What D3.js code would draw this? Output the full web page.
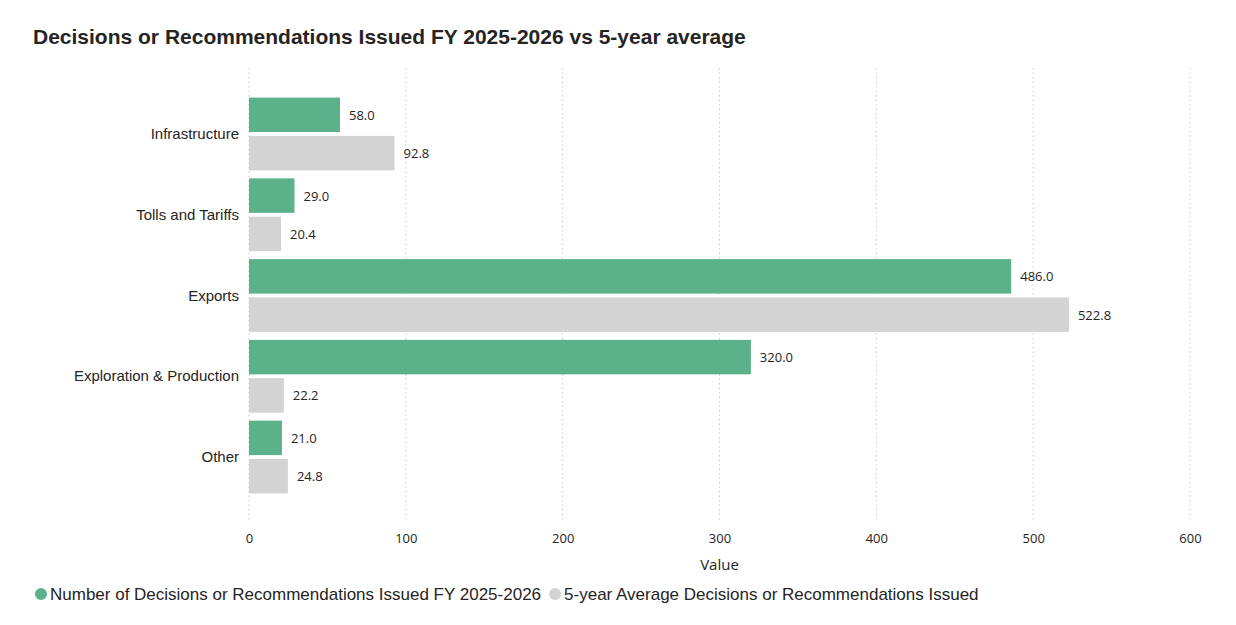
<!DOCTYPE html>
<html><head><meta charset="utf-8">
<script src="https://cdn.jsdelivr.net/npm/d3@7"></script>
<style>body{margin:0;background:#fff}</style></head>
<body><svg id="c" width="1236" height="625"></svg>
<script>
const categories = ["Infrastructure","Tolls and Tariffs","Exports","Exploration & Production","Other"];
const currentValues = [58.0, 29.0, 486.0, 320.0, 21.0];
const averageValues = [92.8, 20.4, 522.8, 22.2, 24.8];
const xTicks = [0,100,200,300,400,500,600];
const seriesNames = ["Number of Decisions or Recommendations Issued FY 2025-2026","5-year Average Decisions or Recommendations Issued"];
const colors = ["#5AB18A","#D3D3D3"];

const svg = d3.select("#c");
const x = d3.scaleLinear().domain([0,600]).range([249,1190]);
const y = d3.scaleBand().domain(categories).range([93.6,497.4]);
const sub = d3.scaleBand().domain([0,1]).range([4,y.bandwidth()-4]).paddingInner(0.1);

svg.append("text").attr("x",33).attr("y",44).attr("font-family","Liberation Sans, Arial").attr("font-weight","bold")
  .attr("font-size",21).attr("fill","#252423").text("Decisions or Recommendations Issued FY 2025-2026 vs 5-year average");

svg.append("g").selectAll("line").data(xTicks).join("line")
  .attr("x1",d=>x(d)).attr("x2",d=>x(d)).attr("y1",68).attr("y2",522)
  .attr("stroke","#c8c8c8").attr("stroke-dasharray","1.5,3");

const ax = svg.append("g").attr("transform","translate(0,528)").call(d3.axisBottom(x).tickValues(xTicks).tickSize(0).tickPadding(6));
ax.select(".domain").remove();
ax.selectAll("text").attr("font-family","Open Sans, sans-serif").attr("font-size",13).attr("fill","#252423");
svg.append("text").attr("x",x(300)).attr("y",570).attr("text-anchor","middle").attr("font-family","Open Sans, sans-serif")
  .attr("font-size",15).attr("fill","#252423").text("Value");

svg.append("g").selectAll("text").data(categories).join("text")
  .attr("x",239).attr("y",d=>y(d)+y.bandwidth()/2+5).attr("text-anchor","end")
  .attr("font-family","Liberation Sans, Arial").attr("font-size",15).attr("fill","#252423").text(d=>d);

[currentValues, averageValues].forEach((vals,si)=>{
  const g = svg.append("g");
  g.selectAll("rect").data(vals).join("rect")
    .attr("x",x(0)).attr("y",(d,i)=>y(categories[i])+sub(si)).attr("height",sub.bandwidth())
    .attr("width",d=>x(d)-x(0)).attr("fill",colors[si]);
  g.selectAll("text").data(vals).join("text")
    .attr("x",d=>x(d)+9).attr("y",(d,i)=>y(categories[i])+sub(si)+sub.bandwidth()/2+5)
    .attr("font-family","Open Sans, sans-serif").attr("font-size",13).attr("fill","#252423").text(d=>d.toFixed(1));
});

const lg = svg.append("g");
let lx = 35;
seriesNames.forEach((n,i)=>{
  lg.append("circle").attr("cx",lx+6).attr("cy",594).attr("r",6).attr("fill",colors[i]);
  const t = lg.append("text").attr("x",lx+15).attr("y",600).attr("font-family","Liberation Sans, Arial")
    .attr("font-size",17).attr("fill","#252423").text(n);
  lx += 15 + t.node().getComputedTextLength() + 8;
});
</script></body></html>
